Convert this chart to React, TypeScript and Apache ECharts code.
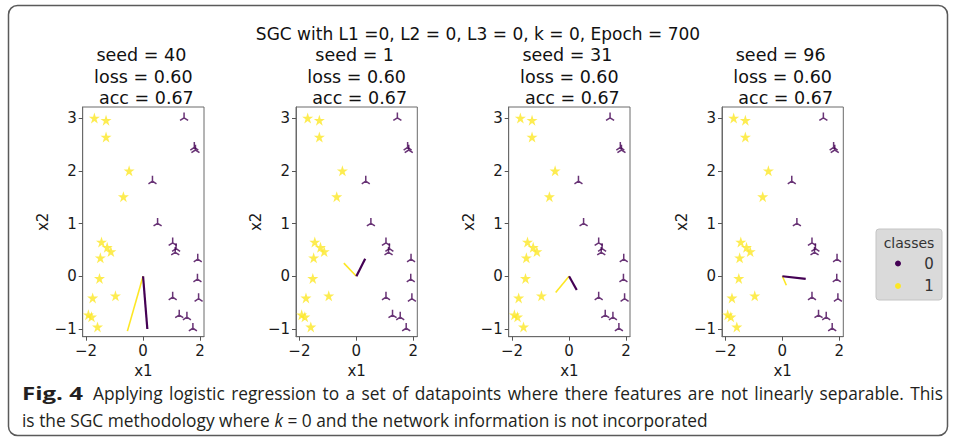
import React, { useEffect, useRef } from "react";
import * as echarts from "echarts";

// ---- data ----
const seeds = [40, 1, 31, 96];
const losses = ["0.60", "0.60", "0.60", "0.60"];
const accs = ["0.67", "0.67", "0.67", "0.67"];

const class1X = [-1.71, -1.3, -1.3, -0.49, -0.69, -1.46, -1.26, -1.13, -1.5, -1.53, -1.77, -0.97, -1.92, -1.81, -1.6];
const class1Y = [3.0, 2.96, 2.64, 2.0, 1.51, 0.65, 0.55, 0.47, 0.35, -0.04, -0.41, -0.37, -0.73, -0.77, -0.96];
const class0X = [1.44, 1.8, 1.84, 0.33, 0.51, 1.04, 1.16, 1.13, 1.92, 1.91, 1.04, 1.95, 1.27, 1.54, 1.75];
const class0Y = [3.03, 2.47, 2.42, 1.83, 1.03, 0.66, 0.55, 0.48, 0.35, -0.03, -0.37, -0.4, -0.71, -0.75, -0.96];

// weight vectors (arrow end points, drawn from origin)
const w0X = [0.15, 0.31, 0.27, 0.82];
const w0Y = [-1.0, 0.33, -0.26, -0.05];
const w1X = [-0.55, -0.44, -0.47, 0.14];
const w1Y = [-1.04, 0.25, -0.31, -0.17];

const xTicks = [-2, 0, 2];
const yTicks = [-1, 0, 1, 2, 3];

const mainTitle = "SGC with L1 =0, L2 = 0, L3 = 0, k = 0, Epoch = 700";
const captionBold = "Fig. 4";
const captionLine1 =
  "Applying logistic regression to a set of datapoints where there features are not linearly separable. This";
const captionLine2a = "is the SGC methodology where ";
const captionLine2k = "k";
const captionLine2b = " = 0 and the network information is not incorporated";

const PURPLE = "#440154";
const YELLOW = "#fde725";
const FONT = "DejaVu Sans";

const STAR =
  "path://M0,-100 L22.5,-30.9 L95.1,-30.9 L36.3,11.8 L58.8,80.9 L0,38.2 L-58.8,80.9 L-36.3,11.8 L-95.1,-30.9 L-22.5,-30.9 Z";
const TRI_UP = "path://M0,-10 L0,0 L-8.66,5 L0,0 L8.66,5 L0,0 Z";

function measure(text: string, font: string): number {
  const c = document.createElement("canvas").getContext("2d");
  if (!c) return text.length * 8;
  c.font = font;
  return c.measureText(text).width;
}

const minus = (v: number) => (v < 0 ? "\u2212" + Math.abs(v) : String(v));

export default function App() {
  const ref = useRef<HTMLDivElement>(null);
  useEffect(() => {
    if (!ref.current) return;
    const chart = echarts.init(ref.current, undefined, { renderer: "svg" });

    const lefts = [82.7, 296, 508.7, 722];
    const gw = 121.3;
    const gTop = 107;
    const gH = 229.7;

    const grids = lefts.map((l) => ({
      left: l,
      top: gTop,
      width: gw,
      height: gH,
      show: true,
      borderColor: "#6a6a6a",
      borderWidth: 1,
      backgroundColor: "#fff",
    }));

    const xAxes = lefts.map((_, i) => ({
      type: "value",
      gridIndex: i,
      min: -2.12,
      max: 2.14,
      splitLine: { show: false },
      axisLine: { show: true, onZero: false, lineStyle: { color: "#6a6a6a" } },
      axisTick: { show: true, length: 4, customValues: xTicks, lineStyle: { color: "#555" } },
      axisLabel: {
        customValues: xTicks,
        formatter: minus,
        fontFamily: FONT,
        fontSize: 15,
        color: "#1a1a1a",
        margin: 7,
      },
      name: "x1",
      nameLocation: "middle",
      nameGap: 24,
      nameTextStyle: { fontFamily: FONT, fontSize: 15, color: "#1a1a1a" },
    }));

    const yAxes = lefts.map((_, i) => ({
      type: "value",
      gridIndex: i,
      min: -1.146,
      max: 3.21,
      splitLine: { show: false },
      axisLine: { show: true, onZero: false, lineStyle: { color: "#6a6a6a" } },
      axisTick: { show: true, length: 4, customValues: yTicks, lineStyle: { color: "#555" } },
      axisLabel: {
        customValues: yTicks,
        formatter: minus,
        fontFamily: FONT,
        fontSize: 15,
        color: "#1a1a1a",
        margin: 6,
      },
      name: "x2",
      nameLocation: "middle",
      nameGap: 22,
      nameRotate: 90,
      nameTextStyle: { fontFamily: FONT, fontSize: 15, color: "#1a1a1a" },
    }));

    const series: any[] = [];
    lefts.forEach((_, i) => {
      series.push({
        type: "scatter",
        xAxisIndex: i,
        yAxisIndex: i,
        data: class1X.map((x, k) => [x, class1Y[k]]),
        symbol: STAR,
        symbolSize: 11,
        itemStyle: { color: YELLOW },
        silent: true,
      });
      series.push({
        type: "scatter",
        xAxisIndex: i,
        yAxisIndex: i,
        data: class0X.map((x, k) => [x, class0Y[k]]),
        symbol: TRI_UP,
        symbolSize: 8,
        itemStyle: { color: PURPLE, borderColor: PURPLE, borderWidth: 1.5 },
        silent: true,
      });
      series.push({
        type: "line",
        xAxisIndex: i,
        yAxisIndex: i,
        data: [
          [0, 0],
          [w1X[i], w1Y[i]],
        ],
        symbol: "none",
        lineStyle: { color: YELLOW, width: 1.6 },
        z: 5,
        silent: true,
      });
      series.push({
        type: "line",
        xAxisIndex: i,
        yAxisIndex: i,
        data: [
          [0, 0],
          [w0X[i], w0Y[i]],
        ],
        symbol: "none",
        lineStyle: { color: PURPLE, width: 2.2 },
        z: 6,
        silent: true,
      });
    });

    const titleFont = 17.5;
    const titles: any[] = [
      {
        text: mainTitle,
        left: "center",
        top: 20,
        textStyle: { fontFamily: FONT, fontSize: 17, fontWeight: "normal", color: "#111" },
      },
    ];

    const graphics: any[] = [];
    // frame
    graphics.push({
      type: "rect",
      shape: { x: 8.5, y: 5.5, width: 939, height: 430, r: 9 },
      style: { fill: "none", stroke: "#5a5a5a", lineWidth: 1.5 },
      silent: true,
    });
    // panel titles
    lefts.forEach((l, i) => {
      const cx = l + gw / 2;
      const lines = [`seed = ${seeds[i]}`, `loss = ${losses[i]}`, `acc = ${accs[i]}`];
      const offs = [-2, 0, 3];
      const ys = [55, 77, 98];
      lines.forEach((t, j) => {
        graphics.push({
          type: "text",
          x: cx + offs[j],
          y: ys[j],
          style: {
            text: t,
            font: `${titleFont}px "${FONT}"`,
            fill: "#111",
            align: "center",
            verticalAlign: "middle",
          },
          silent: true,
        });
      });
    });

    // legend
    graphics.push({
      type: "rect",
      shape: { x: 876, y: 229, width: 66, height: 71, r: 3 },
      style: { fill: "#dadada", stroke: "#c4c4c4", lineWidth: 1 },
      silent: true,
    });
    graphics.push({
      type: "text",
      x: 909,
      y: 243,
      style: { text: "classes", font: `14px "${FONT}"`, fill: "#333", align: "center", verticalAlign: "middle" },
      silent: true,
    });
    [
      { c: PURPLE, t: "0", y: 263.5 },
      { c: YELLOW, t: "1", y: 286 },
    ].forEach((e) => {
      graphics.push({
        type: "circle",
        shape: { cx: 898, cy: e.y, r: 3 },
        style: { fill: e.c },
        silent: true,
      });
      graphics.push({
        type: "text",
        x: 929,
        y: e.y,
        style: { text: e.t, font: `15px "${FONT}"`, fill: "#333", align: "center", verticalAlign: "middle" },
        silent: true,
      });
    });

    // caption (condensed face, first line justified)
    const capFont = '17.5px "Open Sans"';
    const capBoldFont = 'bold 17.5px "Open Sans"';
    const sc = 822 / measure(captionLine1, capFont);
    const sB = 61 / measure(captionBold, capBoldFont);
    const capColor = "#231f20";
    graphics.push({
      type: "text",
      x: 22,
      y: 393,
      scaleX: sB,
      style: { text: captionBold, font: capBoldFont, fill: capColor, verticalAlign: "middle" },
      silent: true,
    });
    const words = captionLine1.split(" ");
    const ww = words.map((w) => measure(w, capFont) * sc);
    const totalW = ww.reduce((a, b) => a + b, 0);
    const lineStart = 93;
    const lineEnd = 943;
    const gap = (lineEnd - lineStart - totalW) / (words.length - 1);
    let cursor = lineStart;
    words.forEach((w, k) => {
      graphics.push({
        type: "text",
        x: cursor,
        y: 393,
        scaleX: sc,
        style: { text: w, font: capFont, fill: capColor, verticalAlign: "middle" },
        silent: true,
      });
      cursor += ww[k] + gap;
    });
    graphics.push({
      type: "text",
      x: 22,
      y: 420,
      scaleX: sc,
      style: {
        text: `${captionLine2a}{i|${captionLine2k}}${captionLine2b}`,
        font: capFont,
        fill: capColor,
        verticalAlign: "middle",
        rich: {
          i: { fontStyle: "italic", fontFamily: "Open Sans", fontSize: 17.5, fill: capColor },
        },
      },
      silent: true,
    });

    chart.setOption({
      animation: false,
      backgroundColor: "#fff",
      title: titles,
      grid: grids,
      xAxis: xAxes,
      yAxis: yAxes,
      series,
      graphic: graphics,
    });
    return () => chart.dispose();
  }, []);
  return (
    <div
      ref={ref}
      style={{ position: "absolute", left: 0, top: 0, width: 956, height: 439 }}
    />
  );
}
